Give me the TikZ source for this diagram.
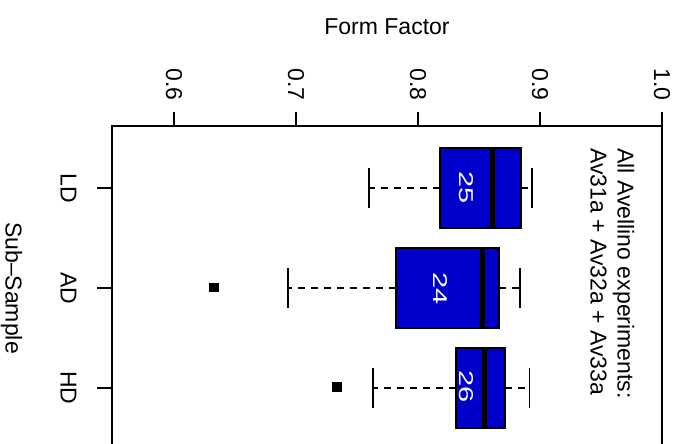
\documentclass[tikz,border=0pt]{standalone}
\usepackage{fontspec}
\setmainfont{Liberation Sans}
\definecolor{boxblue}{RGB}{0,0,205}
\begin{document}
\begin{tikzpicture}[x=1pt,y=-1pt,
  lab/.style={font=\fontsize{23}{27.6}\selectfont, inner sep=0pt, outer sep=0pt},
  rlab/.style={lab, rotate=-90},
  frameline/.style={line width=2pt},
  tickline/.style={line width=1.8pt},
  boxst/.style={draw=black, line width=1.8pt, fill=boxblue, inner sep=0pt, outer sep=0pt},
  med/.style={line width=5pt, line cap=butt},
  whisk/.style={line width=1.8pt, dash pattern=on 7pt off 6pt},
  staple/.style={line width=1.8pt},
  outl/.style={fill=black, draw=none, inner sep=0pt, minimum width=10pt, minimum height=9.5pt},
  numlab/.style={font=\fontsize{20}{24}\selectfont, inner sep=0pt, outer sep=0pt, text=white, rotate=-90, xscale=1.45}
]
\useasboundingbox (0,0) rectangle (681,444);
\clip (0,0) rectangle (681,444);
\fill[white] (0,0) rectangle (681,444);

% frame
\draw[frameline] (112,470) -- (112,126) -- (662,126) -- (662,470);

% top axis ticks and labels
\foreach \xx/\vv in {174/0.6,296/0.7,418/0.8,540/0.9,662/1.0}{
  \draw[tickline] (\xx,126) -- (\xx,112);
  \node[rlab, anchor=east] (t\vv) at (\xx,100.5) {\vv};
}
\node[lab, anchor=base] (title) at (387,35) {Form Factor};

% left axis ticks and labels
\draw[tickline] (112,188) -- (97,188);
\draw[tickline] (112,288) -- (97,288);
\draw[tickline] (112,388) -- (97,388);
\node[rlab] (labLD) at (68.5,188) {LD};
\node[rlab] (labAD) at (68.5,288) {AD};
\node[rlab] (labHD) at (68.5,388) {HD};
\node[rlab, anchor=base] (ylab) at (5.5,288) {Sub–Sample};

% LD
\coordinate (ldlo) at (369,188);
\coordinate (ldhi) at (532,188);
\node[boxst, minimum width=81pt, minimum height=80pt] (ldbox) at (480.5,188) {};
\draw[whisk] (ldbox.west) -- (ldlo);
\draw[whisk] (ldbox.east) -- (ldhi);
\draw[staple] (369,168) -- (369,208);
\draw[staple] (532,168) -- (532,208);
\draw[med] (492,148) -- (492,228);
\node[numlab] (nLD) at (466,188) {25};

% AD
\coordinate (adlo) at (288,288);
\coordinate (adhi) at (520,288);
\node[boxst, minimum width=103pt, minimum height=80pt] (adbox) at (447.5,288) {};
\draw[whisk] (adbox.west) -- (adlo);
\draw[whisk] (adbox.east) -- (adhi);
\draw[staple] (288,268) -- (288,308);
\draw[staple] (520,268) -- (520,308);
\draw[med] (482,248) -- (482,328);
\node[numlab] (nAD) at (440.5,289) {24};
\node[outl] (oAD) at (214,287.5) {};

% HD
\coordinate (hdlo) at (373,388);
\coordinate (hdhi) at (529.5,388);
\node[boxst, minimum width=49pt, minimum height=80pt] (hdbox) at (480.5,388) {};
\draw[whisk] (hdbox.west) -- (hdlo);
\draw[whisk] (hdbox.east) -- (hdhi);
\draw[staple] (373,368) -- (373,408);
\draw[staple] (529.5,368) -- (529.5,408);
\draw[med] (484,348) -- (484,428);
\node[numlab] (nHD) at (466.5,387) {26};
\node[outl] (oHD) at (337,387) {};

% annotation
\node[rlab, anchor=base west] (ann1) at (617.5,148.5) {All Avellino experiments:};
\node[rlab, anchor=base west] (ann2) at (590.5,148.5) {Av31a + Av32a + Av33a};
\end{tikzpicture}
\end{document}
